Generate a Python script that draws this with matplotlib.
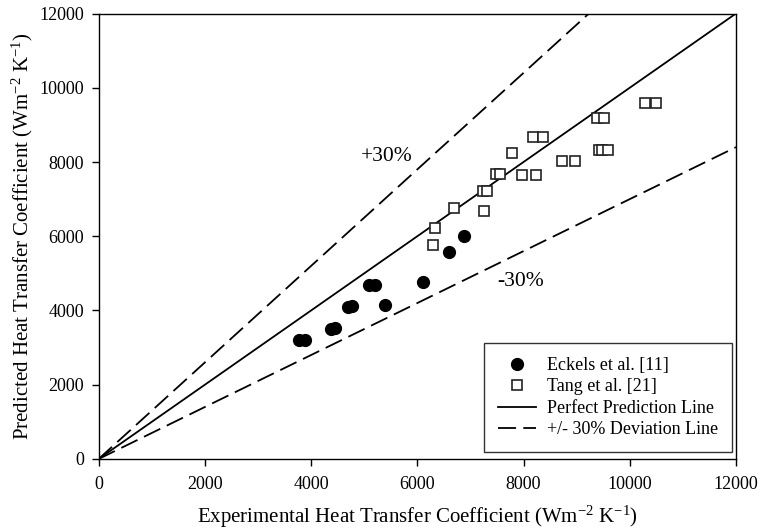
import matplotlib
matplotlib.use("Agg")
import matplotlib.pyplot as plt
import numpy as np

plt.rcParams['font.family'] = ['Liberation Serif', 'DejaVu Serif']
plt.rcParams['mathtext.fontset'] = 'custom'
plt.rcParams['mathtext.rm'] = 'Liberation Serif'
plt.rcParams['mathtext.it'] = 'Liberation Serif:italic'

# Eckels et al. [11]
eckels_x = [3780, 3880, 4380, 4450, 4700, 4780, 5100, 5200, 5400, 6100, 6600, 6870]
eckels_y = [3200, 3200, 3500, 3520, 4100, 4120, 4700, 4690, 4150, 4780, 5580, 6000]

# Tang et al. [21]
tang_x = [6290, 6330, 6700, 7260, 7240, 7320, 7480, 7560, 7790, 8170, 8360,
          7980, 8230, 8730, 8970, 9390, 9520, 9420, 9480, 9600, 10290, 10490]
tang_y = [5760, 6230, 6750, 6680, 7220, 7220, 7680, 7680, 8240, 8680, 8680,
          7650, 7650, 8020, 8020, 9180, 9180, 8320, 8320, 8320, 9580, 9580]

line_x = [0, 12000]
ticks = [0, 2000, 4000, 6000, 8000, 10000, 12000]

fig = plt.figure(figsize=(7.61, 5.30), dpi=100)
ax = fig.add_axes([0.1296, 0.134, 0.9671 - 0.1296, 0.9745 - 0.134])

ax.plot(line_x, line_x, color='black', lw=1.3, label='Perfect Prediction Line')
ax.plot([0, 12000 / 1.3], [0, 12000], color='black', lw=1.3,
        dashes=(10, 4), label='+/- 30% Deviation Line')
ax.plot([0, 12000], [0, 12000 * 0.7], color='black', lw=1.3, dashes=(10, 4))

h1, = ax.plot(eckels_x, eckels_y, 'o', color='black', ms=8.5, ls='none',
              label='Eckels et al. [11]')
h2, = ax.plot(tang_x, tang_y, 's', mfc='white', mec='#222222', mew=1.2, ms=7.6,
              ls='none', label='Tang et al. [21]')

ax.set_xlim(0, 12000)
ax.set_ylim(0, 12000)
ax.set_xticks(ticks)
ax.set_yticks(ticks)
ax.tick_params(direction='out', length=5, width=1, labelsize=13, top=False, right=False)
ax.tick_params(axis='x', pad=7)
ax.tick_params(axis='y', pad=5.5)
for s in ax.spines.values():
    s.set_linewidth(1)

ax.set_xlabel('Experimental Heat Transfer Coefficient (Wm$^{-2}$ K$^{-1}$)', fontsize=15, labelpad=8)
ax.set_ylabel('Predicted Heat Transfer Coefficient (Wm$^{-2}$ K$^{-1}$)', fontsize=15, labelpad=3)

ax.text(5424, 8150, '+30%', fontsize=15.5, ha='center', va='center')
ax.text(7952, 4776, '-30%', fontsize=15.5, ha='center', va='center')

handles, labels = ax.get_legend_handles_labels()
order = [2, 3, 0, 1]
leg = ax.legend([handles[i] for i in order], [labels[i] for i in order],
                loc='lower right', bbox_to_anchor=(0.9937, 0.0157),
                fontsize=13, frameon=True, fancybox=False, edgecolor='black',
                handlelength=2.1, borderpad=0.75, labelspacing=0.25, handletextpad=0.65,
                borderaxespad=0)
leg.get_frame().set_linewidth(1)

fig.savefig('out.png', dpi=100)
